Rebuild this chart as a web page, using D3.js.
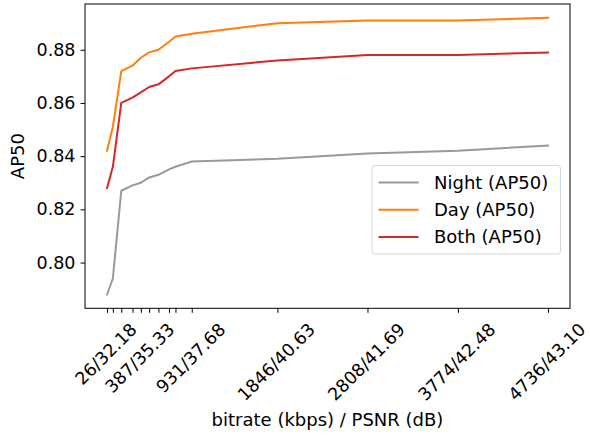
<!DOCTYPE html>
<html>
<head>
<meta charset="utf-8">
<script src="https://cdn.jsdelivr.net/npm/d3@7"></script>
<style>
  body { margin: 0; background: #fff; }
  text { font-family: "DejaVu Sans", sans-serif; fill: #000; }
</style>
</head>
<body>
<div id="vis"></div>
<script>
// bitrate (kbps) of each encoded point
let bitrates = [26, 88, 178, 298, 387, 476, 575, 688, 757, 931, 1846, 2808, 3774, 4736];
let night = [0.788, 0.794, 0.827, 0.829, 0.830, 0.832, 0.833, 0.835, 0.836, 0.838, 0.839, 0.841, 0.842, 0.844];
let day   = [0.842, 0.851, 0.872, 0.874, 0.877, 0.879, 0.880, 0.883, 0.885, 0.886, 0.890, 0.891, 0.891, 0.892];
let both  = [0.828, 0.836, 0.860, 0.862, 0.864, 0.866, 0.867, 0.870, 0.872, 0.873, 0.876, 0.878, 0.878, 0.879];

// labelled ticks
let labelKbps = [26, 387, 931, 1846, 2808, 3774, 4736];
let labelPsnr = ['32.18', '35.33', '37.68', '40.63', '41.69', '42.48', '43.10'];
let yTicks = [0.80, 0.82, 0.84, 0.86, 0.88];

let series = [
  {name: 'Night (AP50)', values: night, color: '#999999'},
  {name: 'Day (AP50)', values: day, color: '#ff7f0e'},
  {name: 'Both (AP50)', values: both, color: '#d62728'}
];

let W = 590, H = 438;
let margin = {top: 4, left: 85, right: 20, bottom: 130};

let svg = d3.select('#vis')
  .append('svg')
  .attr('width', W)
  .attr('height', H);

let x = d3.scaleLinear()
  .domain([26 - 0.05 * 4710, 4736 + 0.05 * 4710])
  .range([margin.left, W - margin.right]);

let y = d3.scaleLinear()
  .domain([0.7828, 0.8972])
  .range([H - margin.bottom + 0.3, margin.top]);

let fs = 18;
let tfs = 17.5;

// lines
let line = d3.line()
  .x((d, i) => x(bitrates[i]))
  .y(d => y(d));

series.forEach(s => {
  svg.append('path')
    .datum(s.values)
    .attr('d', line)
    .attr('fill', 'none')
    .attr('stroke', s.color)
    .attr('stroke-width', 2)
    .attr('stroke-linejoin', 'round')
    .attr('stroke-linecap', 'square');
});

// frame
svg.append('rect')
  .attr('x', x.range()[0])
  .attr('y', y.range()[1])
  .attr('width', x.range()[1] - x.range()[0])
  .attr('height', y.range()[0] - y.range()[1])
  .attr('fill', 'none')
  .attr('stroke', '#000')
  .attr('stroke-width', 1);

// y axis
let yAxis = svg.append('g')
  .attr('transform', 'translate(' + x.range()[0] + ',0)')
  .call(d3.axisLeft(y).tickValues(yTicks).tickFormat(d3.format('.2f')).tickSize(4.5).tickPadding(5));
yAxis.select('.domain').remove();
yAxis.selectAll('text').style('font-size', tfs + 'px').style('font-family', '"DejaVu Sans", sans-serif');
yAxis.selectAll('line').attr('stroke', '#000');

// x axis (all bitrates ticked, only some labelled)
let xBottom = y.range()[0];
let xAxis = svg.append('g')
  .attr('transform', 'translate(0,' + xBottom + ')')
  .call(d3.axisBottom(x).tickValues(bitrates).tickFormat('').tickSize(4.5));
xAxis.select('.domain').remove();
xAxis.selectAll('line').attr('stroke', '#000');

let labelTop = xBottom + 12;
labelKbps.forEach((k, i) => {
  let t = svg.append('text')
    .attr('text-anchor', 'middle')
    .attr('dominant-baseline', 'central')
    .style('font-size', tfs + 'px')
    .text(k + '/' + labelPsnr[i]);
  let w = t.node().getComputedTextLength();
  let h = tfs * 1.0;
  let bh = (w + h) / Math.SQRT2;
  let cx = x(k) - 1, cy = labelTop + bh / 2;
  t.attr('x', cx).attr('y', cy)
    .attr('transform', 'rotate(-45,' + cx + ',' + cy + ')');
});

// axis titles
svg.append('text')
  .attr('x', (x.range()[0] + x.range()[1]) / 2)
  .attr('y', 426)
  .attr('text-anchor', 'middle')
  .style('font-size', fs + 'px')
  .text('bitrate (kbps) / PSNR (dB)');

let ymid = (y.range()[0] + y.range()[1]) / 2;
svg.append('text')
  .attr('transform', 'translate(24,' + ymid + ') rotate(-90)')
  .attr('text-anchor', 'middle')
  .style('font-size', fs + 'px')
  .text('AP50');

// legend
let lg = svg.append('g');
lg.append('rect')
  .attr('x', 372)
  .attr('y', 165.5)
  .attr('width', 188.5)
  .attr('height', 88.5)
  .attr('rx', 3)
  .attr('fill', 'rgba(255,255,255,0.8)')
  .attr('stroke', '#d6d6d6')
  .attr('stroke-width', 1);

series.forEach((s, i) => {
  let ry = 182.5 + i * 27.2;
  lg.append('line')
    .attr('x1', 378.5).attr('x2', 418.5)
    .attr('y1', ry).attr('y2', ry)
    .attr('stroke', s.color)
    .attr('stroke-width', 2);
  lg.append('text')
    .attr('x', 434)
    .attr('y', ry)
    .attr('dominant-baseline', 'central')
    .style('font-size', fs + 'px')
    .text(s.name);
});
</script>
</body>
</html>
